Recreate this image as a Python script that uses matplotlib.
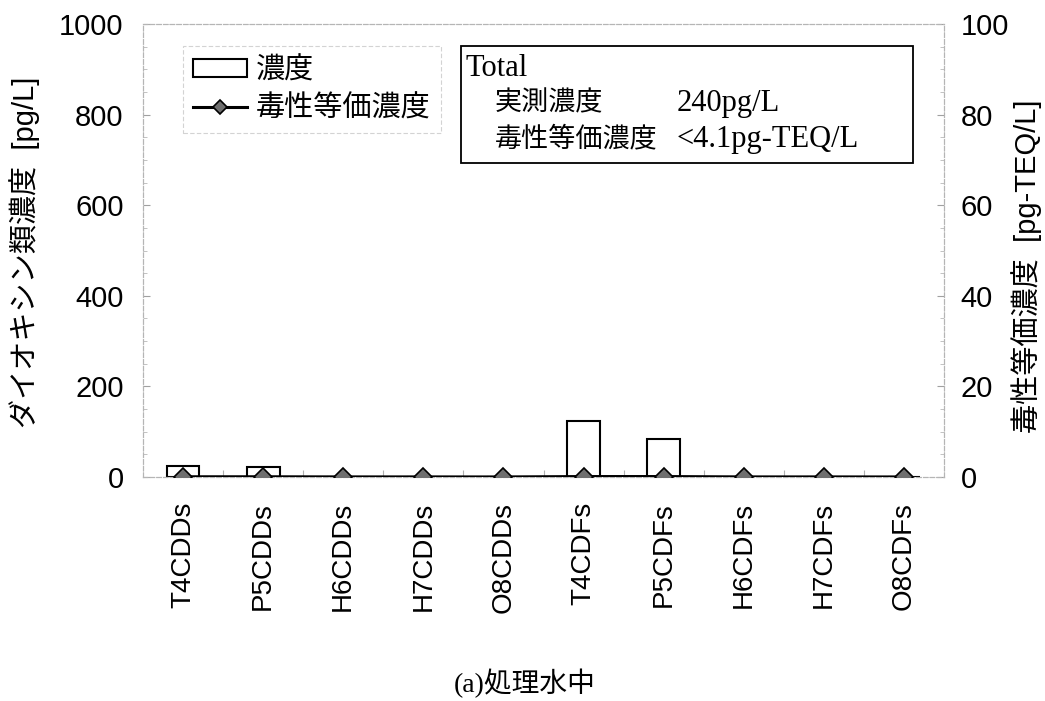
import matplotlib
matplotlib.use("Agg")
import matplotlib.pyplot as plt
from matplotlib.patches import Rectangle
from matplotlib.ticker import MultipleLocator, FixedLocator
import numpy as np

plt.rcParams['font.family'] = ['Liberation Sans', 'Noto Sans CJK JP', 'DejaVu Sans']

# Congener groups and measured values
categories = ["T4CDDs", "P5CDDs", "H6CDDs", "H7CDDs", "O8CDDs",
              "T4CDFs", "P5CDFs", "H6CDFs", "H7CDFs", "O8CDFs"]
concentration = [24, 21, 0.5, 0.5, 0.5, 123, 83, 0.5, 0.5, 0.5]      # pg/L
teq = [0.05, 0.05, 0.02, 0.02, 0.01, 0.1, 0.1, 0.02, 0.02, 0.01]  # pg-TEQ/L

total_conc = "240pg/L"
total_teq = "<4.1pg-TEQ/L"

left_label = "ダイオキシン類濃度  [pg/L]"
right_label = "毒性等価濃度  [pg-TEQ/L]"
legend_labels = ["濃度", "毒性等価濃度"]
title = "(a)処理水中"

fig = plt.figure(figsize=(10.45, 7.01), dpi=100)
ax1 = fig.add_axes([143/1045, 1-477/701, (944-143)/1045, (477-24)/701])
ax2 = ax1.twinx()

x = np.arange(len(categories))
bars = ax1.bar(x, concentration, width=0.41, facecolor="white",
               edgecolor="black", linewidth=1.5, zorder=2)
line, = ax2.plot(x, teq, color="black", linewidth=2.2, marker="D",
                 markersize=9, markerfacecolor="#6e6e6e",
                 markeredgecolor="black", markeredgewidth=1.2, zorder=3)

ax1.set_xlim(-0.5, len(categories) - 0.5)
ax1.set_ylim(0, 1000)
ax2.set_ylim(0, 100)

ax1.set_xticks(x)
ax1.set_xticklabels(categories, rotation=90, fontsize=20)
ax1.xaxis.set_minor_locator(FixedLocator(np.arange(0.5, len(categories) - 1, 1)))
ax1.tick_params(axis="x", which="major", length=0, pad=18)
ax1.tick_params(axis="x", which="minor", direction="in", length=5,
                color="#b0b0b0", width=0.8)

ax1.yaxis.set_major_locator(MultipleLocator(200))
ax1.yaxis.set_minor_locator(MultipleLocator(50))
ax1.tick_params(axis="y", which="major", labelsize=21, direction="in",
                length=5, color="#a0a0a0", pad=14)
ax1.tick_params(axis="y", which="minor", direction="in", length=3,
                color="#b8b8b8")

ax2.yaxis.set_major_locator(MultipleLocator(20))
ax2.yaxis.set_minor_locator(MultipleLocator(5))
ax2.tick_params(axis="y", which="major", labelsize=21, direction="in",
                length=5, color="#a0a0a0", pad=12)
ax2.tick_params(axis="y", which="minor", direction="in", length=3,
                color="#b8b8b8")

for ax in (ax1, ax2):
    for s in ax.spines.values():
        s.set_color("#b5b5b5")
        s.set_linewidth(0.8)
        s.set_linestyle((0, (4, 2)))

ax1.set_ylabel(left_label, fontsize=21, va="center")
ax1.yaxis.set_label_coords((25-143)/801, (477-252)/453)
ax2.set_ylabel(right_label, fontsize=21, va="center", rotation=90)
ax2.yaxis.set_label_coords((1027-143)/801, (477-266)/453)

leg = ax1.legend([bars, line], legend_labels, loc="upper left",
                 bbox_to_anchor=(183/1045, 1-46/701),
                 bbox_transform=fig.transFigure,
                 fontsize=21, frameon=True, fancybox=False,
                 handlelength=1.85, handleheight=0.6, handletextpad=0.3,
                 labelspacing=0.35, borderpad=0.35, borderaxespad=0)
leg.get_frame().set_edgecolor("#c8c8c8")
leg.get_frame().set_linewidth(0.8)
leg.get_frame().set_linestyle((0, (4, 2)))
for h in leg.legend_handles:
    if hasattr(h, "set_markersize"):
        h.set_markersize(7.5)

# Summary box with totals
fig.patches.append(Rectangle((461/1045, 1-163/701), (913-461)/1045, (163-46)/701,
                             transform=fig.transFigure, facecolor="white",
                             edgecolor="black", linewidth=1.3, zorder=5))
serif = ['Liberation Serif', 'Noto Sans CJK JP']
fig.text(466/1045, 1-69/701, "Total", fontsize=22, family=serif,
         va="center", ha="left", zorder=6)
fig.text(495/1045, 1-104/701, "実測濃度", fontsize=19.5, family=serif,
         va="center", ha="left", zorder=6)
fig.text(677/1045, 1-104/701, total_conc, fontsize=22, family=serif,
         va="center", ha="left", zorder=6)
fig.text(495/1045, 1-139/701, "毒性等価濃度", fontsize=19.5, family=serif,
         va="center", ha="left", zorder=6)
fig.text(677/1045, 1-139/701, total_teq, fontsize=22, family=serif,
         va="center", ha="left", zorder=6)

fig.text(525/1045, 1-683/701, title, fontsize=20, family=serif,
         ha="center", va="center")

fig.savefig("out.png", dpi=100, facecolor="white")
